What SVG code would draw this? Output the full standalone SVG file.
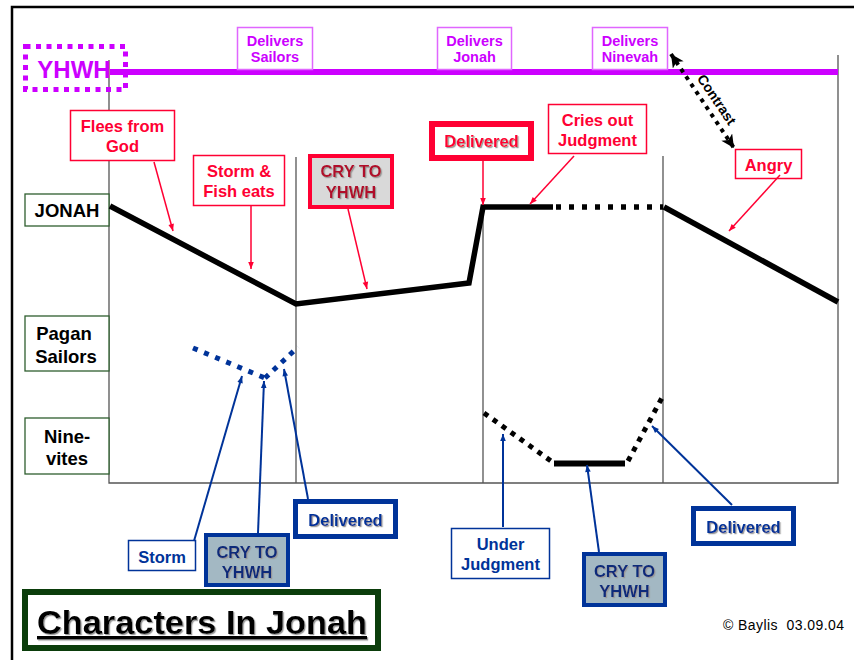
<svg xmlns="http://www.w3.org/2000/svg" width="854" height="660" viewBox="0 0 854 660">
<defs>
<style>
text{font-family:"Liberation Sans",Arial,sans-serif;font-weight:bold;text-anchor:middle}
.red{fill:#ff0033;font-size:16.5px}
.redbox{fill:#fff;stroke:#ff0033;stroke-width:1.5}
.blue{fill:#003399;font-size:16.5px}
.bluebox{fill:#fff;stroke:#003399;stroke-width:1.5}
.purp{fill:#cc00ff;font-size:14.5px}
.pbox{fill:#fff;stroke:#e066ff;stroke-width:1.5}
.lbl{fill:#000;font-size:18.5px}
.lbox{fill:#fff;stroke:#2e5e2e;stroke-width:1.3}
.grid{stroke:#555;stroke-width:1.3;fill:none}
.ra{stroke:#ff0033;stroke-width:1.5;fill:none;marker-end:url(#ar)}
.ba{stroke:#003399;stroke-width:2;fill:none;marker-end:url(#ab)}
.sh{filter:url(#sh)}
</style>
<marker id="ar" viewBox="0 0 10 10" refX="10" refY="5" markerWidth="8" markerHeight="7" markerUnits="userSpaceOnUse" orient="auto"><path d="M0,1 L10,5 L0,9 z" fill="#ff0033"/></marker>
<marker id="ab" viewBox="0 0 10 10" refX="10" refY="5" markerWidth="8" markerHeight="7" markerUnits="userSpaceOnUse" orient="auto"><path d="M0,1 L10,5 L0,9 z" fill="#003399"/></marker>
<marker id="ak" viewBox="0 0 10 10" refX="10" refY="5" markerWidth="16" markerHeight="13" markerUnits="userSpaceOnUse" orient="auto-start-reverse"><path d="M0,0 L10,5 L0,10 L2.5,5 z" fill="#000"/></marker>
<filter id="sh" x="-10%" y="-10%" width="120%" height="130%"><feDropShadow dx="1.2" dy="1.2" stdDeviation="0.5" flood-color="#999"/></filter>
</defs>
<rect width="854" height="660" fill="#fff"/>
<!-- page border -->
<path d="M12,660 V7 H854" fill="none" stroke="#000" stroke-width="2.5"/>

<!-- chart grid -->
<g id="grid">
<path class="grid" d="M109,60 V483 H838 V55"/>
<line class="grid" x1="296" y1="157" x2="296" y2="483"/>
<line class="grid" x1="483" y1="207" x2="483" y2="483"/>
<line class="grid" x1="663" y1="156" x2="663" y2="483" stroke="#222"/>
</g>

<!-- YHWH line -->
<g id="yhwh-line">
<line x1="110" y1="72" x2="838" y2="72" stroke="#cc00ff" stroke-width="6"/>
</g>

<g id="yhwh">
<rect x="25.5" y="46.5" width="100" height="43" fill="none" stroke="#cc00ff" stroke-width="5" stroke-dasharray="5 5.5"/>
<text x="74" y="78" font-size="24" fill="#cc00ff">YHWH</text>
</g>

<g id="delivers-sailors">
<rect class="pbox" x="237.5" y="27.5" width="75" height="42"/>
<text class="purp" x="275" y="46">Delivers</text>
<text class="purp" x="275" y="62">Sailors</text>
</g>
<g id="delivers-jonah">
<rect class="pbox" x="437.5" y="27.5" width="74" height="42"/>
<text class="purp" x="474.5" y="46">Delivers</text>
<text class="purp" x="474.5" y="62">Jonah</text>
</g>
<g id="delivers-ninevah">
<rect class="pbox" x="592.5" y="27.5" width="75" height="42"/>
<text class="purp" x="630" y="46">Delivers</text>
<text class="purp" x="630" y="62">Ninevah</text>
</g>

<!-- character labels -->
<g id="label-jonah">
<rect class="lbox" x="25" y="194" width="84" height="32"/>
<text class="lbl" x="67" y="217">JONAH</text>
</g>
<g id="label-sailors">
<rect class="lbox" x="25" y="316" width="84" height="55"/>
<text class="lbl" x="64" y="340">Pagan</text>
<text class="lbl" x="66" y="363">Sailors</text>
</g>
<g id="label-ninevites">
<rect class="lbox" x="25" y="418" width="84" height="56"/>
<text class="lbl" x="67" y="443">Nine-</text>
<text class="lbl" x="67" y="465">vites</text>
</g>

<!-- character lines -->
<g id="jonah-line" fill="none" stroke="#000" stroke-width="5.5">
<polyline points="110,206 296,304 469,283 483,207 553,207" stroke-linejoin="miter"/>
<line x1="556" y1="207" x2="663" y2="207" stroke-dasharray="5 8"/>
<line x1="664" y1="207" x2="838" y2="302"/>
</g>
<g id="sailors-line" fill="none" stroke="#003399" stroke-width="5">
<line x1="193" y1="348" x2="265" y2="378" stroke-dasharray="5 7"/>
<line x1="265" y1="378" x2="298" y2="347" stroke-dasharray="5 6.3"/>
</g>
<g id="ninevites-line" fill="none" stroke="#000" stroke-width="5">
<line x1="484" y1="413" x2="551" y2="461" stroke-dasharray="5 6"/>
<line x1="554" y1="463.5" x2="625" y2="463.5" stroke-width="6"/>
<line x1="628" y1="461" x2="664" y2="394" stroke-dasharray="5 6"/>
</g>

<!-- red annotation nodes -->
<g id="flees">
<rect class="redbox" x="70.5" y="110.5" width="104" height="50"/>
<text class="red" x="122.5" y="132">Flees from</text>
<text class="red" x="122.5" y="152">God</text>
</g>
<g id="storm-fish">
<rect class="redbox" x="193.5" y="155.5" width="91" height="50"/>
<text class="red" x="239" y="177">Storm &amp;</text>
<text class="red" x="239" y="197">Fish eats</text>
</g>
<g id="cry-jonah">
<rect x="310" y="156" width="82" height="51" fill="#d9d9d9" stroke="#ff0033" stroke-width="4"/>
<text class="red sh" x="351" y="177" style="fill:#b00c2a">CRY TO</text>
<text class="red sh" x="351" y="198" style="fill:#b00c2a">YHWH</text>
</g>
<g id="delivered-jonah">
<rect x="432" y="124" width="99" height="34" fill="#fff" stroke="#ff0033" stroke-width="6"/>
<text class="red sh" x="481.5" y="147">Delivered</text>
</g>
<g id="cries-out">
<rect class="redbox" x="548.5" y="104.5" width="98" height="49"/>
<text class="red" x="597.5" y="126">Cries out</text>
<text class="red" x="597.5" y="146">Judgment</text>
</g>
<g id="angry">
<rect class="redbox" x="735.5" y="149.5" width="66" height="29"/>
<text class="red" x="768.5" y="171">Angry</text>
</g>

<!-- blue annotation nodes -->
<g id="storm">
<rect class="bluebox" x="128.5" y="540.5" width="67" height="30"/>
<text class="blue" x="162" y="563">Storm</text>
</g>
<g id="cry-sailors">
<rect x="206" y="535" width="82" height="50" fill="#a3b8c3" stroke="#003399" stroke-width="4"/>
<text class="blue sh" x="247" y="558" style="fill:#0a2a7a">CRY TO</text>
<text class="blue sh" x="247" y="578" style="fill:#0a2a7a">YHWH</text>
</g>
<g id="delivered-sailors">
<rect x="295.5" y="501.5" width="100" height="35" fill="#fff" stroke="#003399" stroke-width="5"/>
<text class="blue sh" x="345.5" y="526">Delivered</text>
</g>
<g id="under-judgment">
<rect class="bluebox" x="451.5" y="528.5" width="98" height="50"/>
<text class="blue" x="500.5" y="550">Under</text>
<text class="blue" x="500.5" y="570">Judgment</text>
</g>
<g id="cry-ninevah">
<rect x="584" y="554" width="81" height="51" fill="#a3b8c3" stroke="#003399" stroke-width="4"/>
<text class="blue sh" x="624.5" y="577" style="fill:#0a2a7a">CRY TO</text>
<text class="blue sh" x="624.5" y="597" style="fill:#0a2a7a">YHWH</text>
</g>
<g id="delivered-ninevah">
<rect x="693.5" y="508.5" width="100" height="35" fill="#fff" stroke="#003399" stroke-width="5"/>
<text class="blue sh" x="743.5" y="533">Delivered</text>
</g>

<!-- connectors -->
<g id="connectors">
<line class="ra" x1="154" y1="162" x2="173" y2="231"/>
<line class="ra" x1="251" y1="206" x2="251" y2="269"/>
<line class="ra" x1="348" y1="209" x2="367" y2="289"/>
<line class="ra" x1="483" y1="161" x2="483" y2="205"/>
<line class="ra" x1="574" y1="156" x2="530" y2="204"/>
<line class="ra" x1="780" y1="175" x2="729" y2="231"/>
<line class="ba" x1="194" y1="541" x2="242" y2="376"/>
<line class="ba" x1="258" y1="533" x2="264" y2="381"/>
<line class="ba" x1="308" y1="499" x2="284" y2="369"/>
<line class="ba" x1="503" y1="527" x2="503" y2="434"/>
<line class="ba" x1="599" y1="552" x2="587" y2="465"/>
<line class="ba" x1="732" y1="505" x2="652" y2="426"/>
<line x1="671" y1="54" x2="734" y2="148" stroke="#000" stroke-width="4" stroke-dasharray="4 5" marker-start="url(#ak)" marker-end="url(#ak)"/>
<text x="716" y="100" font-size="14" fill="#000" transform="rotate(56 716 100)" dy="4">Contrast</text>
</g>

<!-- title -->
<g id="title">
<rect x="25" y="592" width="353" height="56" fill="#fff" stroke="#0b3d0b" stroke-width="6"/>
<text x="202" y="634" font-size="34" fill="#000" text-decoration="underline" textLength="330" lengthAdjust="spacingAndGlyphs" class="sh">Characters In Jonah</text>
</g>

<g id="credit">
<text x="844" y="630" font-size="14" style="font-weight:normal;text-anchor:end" fill="#000" textLength="121" xml:space="preserve">© Baylis  03.09.04</text>
</g>
</svg>
